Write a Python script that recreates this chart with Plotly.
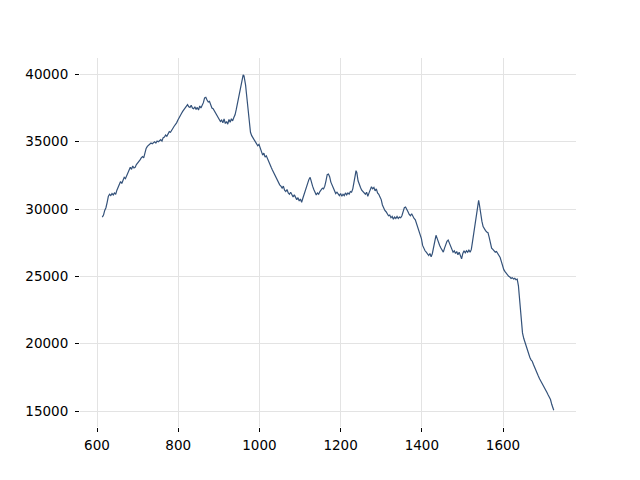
import plotly.graph_objects as go

x_vals = [613, 616, 619, 622, 625, 628, 631, 634, 637, 640, 643, 646, 649, 652, 655, 658, 661, 664, 667, 670,
          673, 676, 679, 682, 685, 688, 691, 694, 697, 700, 703, 706, 709, 712, 715, 718, 721, 724, 727, 730,
          733, 736, 739, 742, 745, 748, 751, 754, 757, 760, 763, 766, 769, 772, 775, 778, 781, 784, 787, 790,
          793, 796, 799, 802, 805, 808, 811, 814, 817, 820, 823, 826, 829, 832, 835, 838, 841, 844, 847, 850,
          853, 856, 859, 862, 865, 868, 871, 874, 877, 880, 883, 886, 889, 892, 895, 898, 901, 904, 907, 910,
          913, 916, 919, 922, 925, 928, 931, 934, 937, 940, 943, 946, 949, 952, 955, 958, 960, 962, 964, 966,
          968, 970, 972, 974, 976, 978, 981, 984, 987, 990, 993, 996, 999, 1002, 1005, 1008, 1011, 1014, 1017, 1020,
          1023, 1026, 1029, 1032, 1035, 1038, 1041, 1044, 1047, 1050, 1053, 1056, 1059, 1062, 1065, 1068, 1071, 1074, 1077, 1080,
          1083, 1086, 1089, 1092, 1095, 1098, 1101, 1104, 1107, 1110, 1113, 1116, 1119, 1122, 1125, 1128, 1131, 1134, 1137, 1140,
          1143, 1146, 1149, 1152, 1155, 1158, 1161, 1164, 1167, 1170, 1173, 1176, 1179, 1182, 1185, 1188, 1191, 1194, 1197, 1200,
          1203, 1206, 1209, 1212, 1215, 1218, 1221, 1224, 1227, 1230, 1233, 1236, 1238, 1240, 1243, 1246, 1249, 1252, 1255, 1258,
          1261, 1264, 1267, 1270, 1273, 1276, 1279, 1282, 1285, 1288, 1291, 1294, 1297, 1300, 1303, 1306, 1309, 1312, 1315, 1318,
          1321, 1324, 1327, 1330, 1333, 1336, 1339, 1342, 1345, 1348, 1351, 1354, 1357, 1360, 1363, 1366, 1369, 1372, 1375, 1378,
          1381, 1384, 1387, 1390, 1393, 1396, 1399, 1402, 1405, 1408, 1411, 1414, 1417, 1420, 1423, 1426, 1429, 1432, 1435, 1438,
          1441, 1444, 1447, 1450, 1453, 1456, 1459, 1462, 1465, 1468, 1471, 1474, 1477, 1480, 1483, 1486, 1489, 1492, 1495, 1498,
          1501, 1504, 1507, 1510, 1513, 1516, 1519, 1522, 1525, 1528, 1531, 1534, 1537, 1540, 1542, 1545, 1548, 1551, 1554, 1557,
          1560, 1563, 1566, 1569, 1572, 1575, 1578, 1581, 1584, 1587, 1590, 1593, 1596, 1599, 1602, 1605, 1608, 1611, 1614, 1617,
          1620, 1623, 1626, 1629, 1632, 1635, 1638, 1640, 1642, 1644, 1646, 1648, 1651, 1654, 1657, 1660, 1663, 1666, 1669, 1672,
          1675, 1678, 1681, 1684, 1687, 1690, 1693, 1696, 1699, 1702, 1705, 1708, 1711, 1714, 1717, 1720, 1723, 1725]

y_vals = [29400, 29550, 29900, 30100, 30500, 30950, 31100, 31000, 31150, 31050, 31200, 31100, 31400, 31600, 31800, 32050, 31900, 32200, 32350, 32250,
          32500, 32700, 32900, 33100, 32950, 33200, 33050, 33100, 33300, 33400, 33550, 33650, 33800, 33900, 33800, 34200, 34500, 34650, 34750, 34800,
          34900, 34850, 34950, 35000, 34900, 35050, 35000, 35100, 35150, 35050, 35300, 35350, 35500, 35400, 35600, 35750, 35700, 35900, 36000, 36150,
          36250, 36400, 36600, 36800, 36900, 37100, 37250, 37400, 37500, 37650, 37750, 37600, 37550, 37700, 37500, 37450, 37600, 37400, 37550, 37350,
          37650, 37500, 37700, 37900, 38250, 38300, 38100, 37950, 38000, 37700, 37500, 37450, 37300, 37100, 37000, 36900, 36650, 36500, 36600, 36400,
          36700, 36350, 36500, 36300, 36650, 36450, 36700, 36550, 36800, 37000, 37400, 37900, 38300, 38700, 39200, 39700, 39970, 39900, 39600, 39200,
          38600, 38000, 37400, 36800, 36200, 35700, 35450, 35300, 35150, 35050, 34900, 34700, 34800, 34500, 34200, 34000, 34150, 33850, 33950, 33700,
          33500, 33300, 33100, 32900, 32700, 32550, 32300, 32150, 31900, 31800, 31700, 31550, 31700, 31400, 31300, 31450, 31200, 31100, 31250, 31000,
          30900, 31050, 30800, 30700, 30850, 30600, 30750, 30500, 30800, 31100, 31300, 31700, 32000, 32200, 32350, 31900, 31700, 31450, 31300, 31050,
          31200, 31100, 31300, 31400, 31550, 31500, 31700, 32100, 32550, 32600, 32400, 32000, 31800, 31500, 31300, 31150, 31250, 31100, 31000, 31150,
          30950, 31100, 31000, 31200, 31050, 31200, 31100, 31300, 31250, 31500, 31900, 32500, 32850, 32700, 32100, 31800, 31600, 31400, 31300, 31200,
          31100, 31250, 30950, 31200, 31400, 31650, 31500, 31600, 31350, 31500, 31200, 31100, 30900, 30700, 30300, 30050, 29900, 29800, 29600, 29500,
          29550, 29350, 29450, 29250, 29400, 29300, 29450, 29300, 29400, 29350, 29500, 29800, 30100, 30150, 29900, 29800, 29600, 29500, 29650, 29400,
          29300, 29200, 28900, 28700, 28400, 28150, 27800, 27300, 27050, 26900, 26800, 26650, 26550, 26700, 26450, 26700, 27200, 27700, 28050, 27800,
          27500, 27300, 27100, 26900, 26800, 27100, 27400, 27600, 27700, 27500, 27200, 27050, 26800, 26900, 26700, 26850, 26600, 26800, 26500, 26300,
          26700, 26900, 26750, 26900, 26800, 26950, 26800, 27000, 27600, 28200, 28700, 29300, 29900, 30650, 30300, 29500, 29100, 28700, 28500, 28400,
          28300, 28250, 27900, 27500, 27100, 27000, 26900, 26800, 26850, 26700, 26500, 26400, 26100, 25700, 25500, 25350, 25200, 25150, 25000, 24950,
          24850, 24900, 24800, 24850, 24750, 24800, 24300, 23600, 22700, 22000, 21300, 20800, 20400, 20100, 19850, 19500, 19300, 19000, 18800, 18700,
          18450, 18200, 18000, 17800, 17600, 17400, 17250, 17100, 16900, 16750, 16600, 16400, 16200, 16000, 15850, 15500, 15300, 15060]

x_ticks = [600, 800, 1000, 1200, 1400, 1600]
y_ticks = [15000, 20000, 25000, 30000, 35000, 40000]

fig = go.Figure()
fig.add_trace(go.Scatter(x=x_vals, y=y_vals, mode="lines",
                         line=dict(color="#34527a", width=1.2), showlegend=False))

font = dict(family="DejaVu Sans", size=13.5, color="black")
fig.update_layout(
    width=632, height=472, autosize=False,
    margin=dict(l=72, r=64, t=50, b=53),
    paper_bgcolor="white", plot_bgcolor="white",
    font=font,
)
fig.update_xaxes(range=[558.1, 1779.8], tickvals=x_ticks, ticktext=[str(v) for v in x_ticks],
                 showgrid=True, gridcolor="#e3e3e3", gridwidth=1.4, zeroline=False,
                 showline=False, ticks="outside", ticklen=4, tickcolor="black", tickfont=font,
                 ticklabelstandoff=2)
fig.update_yaxes(range=[13813, 41217], tickvals=y_ticks, ticktext=[str(v) for v in y_ticks],
                 showgrid=True, gridcolor="#e3e3e3", gridwidth=1.4, zeroline=False,
                 showline=False, ticks="outside", ticklen=4, tickcolor="black", tickfont=font,
                 ticklabelstandoff=4)

fig.write_html("out.html")
